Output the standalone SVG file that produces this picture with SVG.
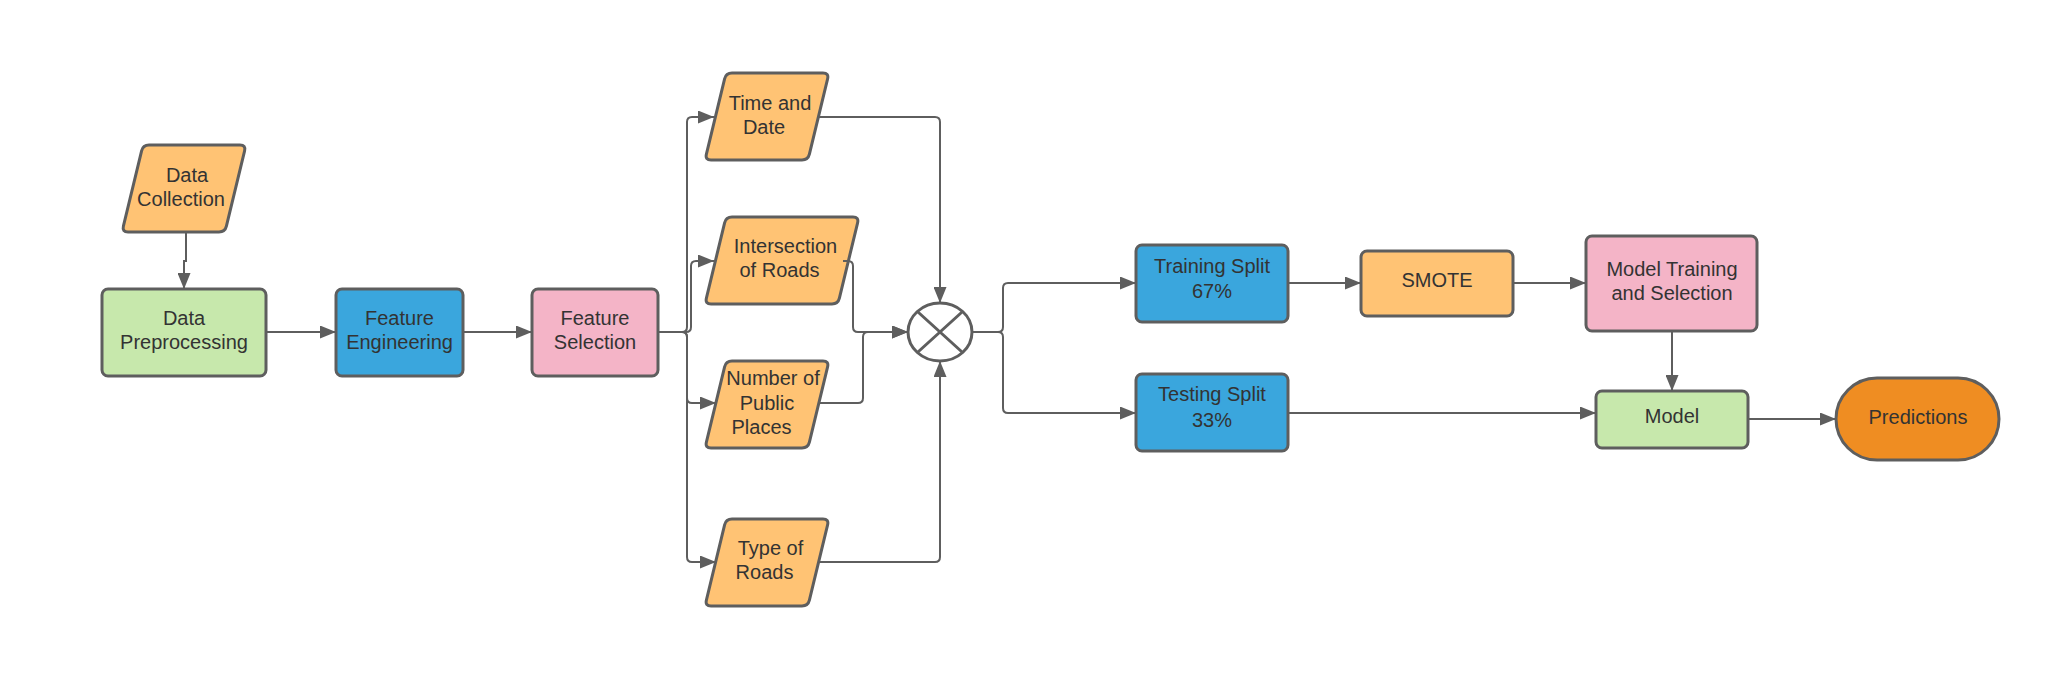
<svg xmlns="http://www.w3.org/2000/svg" xmlns:xlink="http://www.w3.org/1999/xlink" width="2048" height="676" viewBox="0 0 2048 676">
<style>
.box{stroke:#5E5E5E;stroke-width:3;stroke-linejoin:round}
.orange{fill:#FFC374}
.green{fill:#C7E8AC}
.blue{fill:#3AA6DD}
.pink{fill:#F4B4C7}
.dark{fill:#EF8D22}
.lbl{font-family:"Liberation Sans",Arial,sans-serif;font-size:20px;fill:#333333;text-anchor:middle}
.conn{fill:none;stroke:#5E5E5E;stroke-width:2}
.arr{marker-end:url(#ah)}
</style>
<defs>
<marker id="ah" markerUnits="userSpaceOnUse" markerWidth="16" markerHeight="13" refX="16" refY="6.5" orient="auto">
<path d="M0,0 L16,6.5 L0,13 Z" fill="#5E5E5E"/>
</marker>
<path id="para" d="M27,0 H118 Q124,0 122.6,5.8 L104.4,81.2 Q103,87 97,87 H6 Q0,87 1.4,81.2 L19.6,5.8 Q21,0 27,0 Z"/>
<path id="paraW" d="M27,0 H148 Q154,0 152.6,5.8 L134.4,81.2 Q133,87 127,87 H6 Q0,87 1.4,81.2 L19.6,5.8 Q21,0 27,0 Z"/>
</defs>
<rect width="2048" height="676" fill="#FFFFFF"/>

<g id="data-collection">
<use xlink:href="#para" href="#para" class="box orange" transform="translate(122,145)"/>
<text class="lbl" x="187" y="182">Data</text>
<text class="lbl" x="181" y="206">Collection</text>
</g>
<g id="data-preprocessing">
<rect class="box green" x="102" y="289" width="164" height="87" rx="6"/>
<text class="lbl" x="184" y="325">Data</text>
<text class="lbl" x="184" y="349">Preprocessing</text>
</g>
<g id="feature-engineering">
<rect class="box blue" x="336" y="289" width="127" height="87" rx="6"/>
<text class="lbl" x="399.5" y="325">Feature</text>
<text class="lbl" x="399.5" y="349">Engineering</text>
</g>
<g id="feature-selection">
<rect class="box pink" x="532" y="289" width="126" height="87" rx="6"/>
<text class="lbl" x="595" y="325">Feature</text>
<text class="lbl" x="595" y="349">Selection</text>
</g>
<g id="time-and-date">
<use xlink:href="#para" href="#para" class="box orange" transform="translate(705,73)"/>
<text class="lbl" x="770" y="110">Time and</text>
<text class="lbl" x="764" y="134">Date</text>
</g>
<g id="intersection-of-roads">
<use xlink:href="#paraW" href="#paraW" class="box orange" transform="translate(705,217)"/>
<text class="lbl" x="785.5" y="253">Intersection</text>
<text class="lbl" x="779.5" y="277">of Roads</text>
</g>
<g id="number-of-public-places">
<use xlink:href="#para" href="#para" class="box orange" transform="translate(705,361)"/>
<text class="lbl" x="773" y="385">Number of</text>
<text class="lbl" x="767" y="410">Public</text>
<text class="lbl" x="761.5" y="434">Places</text>
</g>
<g id="type-of-roads">
<use xlink:href="#para" href="#para" class="box orange" transform="translate(705,519)"/>
<text class="lbl" x="770.5" y="555">Type of</text>
<text class="lbl" x="764.5" y="579">Roads</text>
</g>
<g id="combine">
<ellipse cx="940" cy="332" rx="32" ry="29" fill="#FFFFFF" stroke="#5E5E5E" stroke-width="3"/>
<path d="M917.4,311.5 L962.6,352.5 M962.6,311.5 L917.4,352.5" stroke="#5E5E5E" stroke-width="3" fill="none"/>
</g>
<g id="training-split">
<rect class="box blue" x="1136" y="245" width="152" height="77" rx="6"/>
<text class="lbl" x="1212" y="273">Training Split</text>
<text class="lbl" x="1212" y="298">67%</text>
</g>
<g id="testing-split">
<rect class="box blue" x="1136" y="374" width="152" height="77" rx="6"/>
<text class="lbl" x="1212" y="401">Testing Split</text>
<text class="lbl" x="1212" y="427">33%</text>
</g>
<g id="smote">
<rect class="box orange" x="1361" y="251" width="152" height="65" rx="6"/>
<text class="lbl" x="1437" y="287">SMOTE</text>
</g>
<g id="model-training">
<rect class="box pink" x="1586" y="236" width="171" height="95" rx="6"/>
<text class="lbl" x="1672" y="276">Model Training</text>
<text class="lbl" x="1672" y="300">and Selection</text>
</g>
<g id="model">
<rect class="box green" x="1596" y="391" width="152" height="57" rx="6"/>
<text class="lbl" x="1672" y="423">Model</text>
</g>
<g id="predictions">
<rect class="box dark" x="1836" y="378" width="163" height="82" rx="41"/>
<text class="lbl" x="1918" y="424">Predictions</text>
</g>

<g id="connectors">
<path class="conn arr" d="M186,232 V261 H184 V289"/>
<path class="conn arr" d="M266,332 H336"/>
<path class="conn arr" d="M463,332 H532"/>
<path class="conn arr" d="M658,332 H682 Q687,332 687,327 V122 Q687,117 692,117 H714"/>
<path class="conn arr" d="M658,332 H686 Q691,332 691,327 V266 Q691,261 696,261 H714"/>
<path class="conn arr" d="M658,332 H682 Q687,332 687,337 V398 Q687,403 692,403 H716"/>
<path class="conn arr" d="M658,332 H682 Q687,332 687,337 V557 Q687,562 692,562 H716"/>
<path class="conn arr" d="M818,117 H935 Q940,117 940,122 V303"/>
<path class="conn arr" d="M843,261 H848 Q853,261 853,266 V327 Q853,332 858,332 H908"/>
<path class="conn arr" d="M819,403 H858 Q863,403 863,398 V337 Q863,332 868,332 H908"/>
<path class="conn arr" d="M819,562 H935 Q940,562 940,557 V361"/>
<path class="conn arr" d="M972,332 H998 Q1003,332 1003,327 V288 Q1003,283 1008,283 H1136"/>
<path class="conn arr" d="M972,332 H998 Q1003,332 1003,337 V408 Q1003,413 1008,413 H1136"/>
<path class="conn arr" d="M1288,283 H1361"/>
<path class="conn arr" d="M1513,283 H1586"/>
<path class="conn arr" d="M1672,331 V391"/>
<path class="conn arr" d="M1288,413 H1596"/>
<path class="conn arr" d="M1748,419 H1836"/>
</g>
</svg>
